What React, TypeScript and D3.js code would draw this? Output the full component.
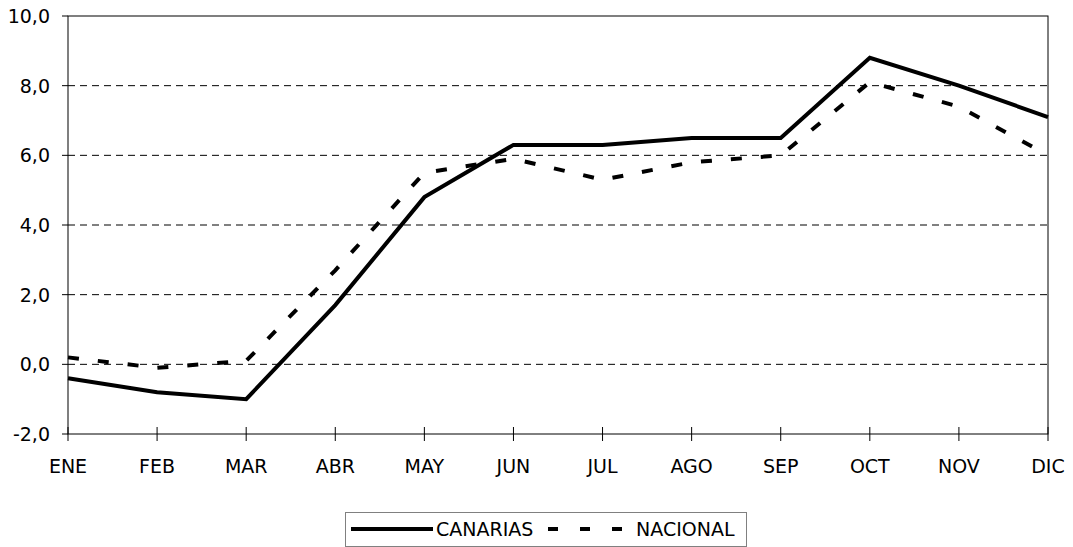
import React from "react";
import * as d3 from "d3";

const months = ["ENE", "FEB", "MAR", "ABR", "MAY", "JUN", "JUL", "AGO", "SEP", "OCT", "NOV", "DIC"];
const canarias = [-0.4, -0.8, -1.0, 1.7, 4.8, 6.3, 6.3, 6.5, 6.5, 8.8, 8.0, 7.1];
const nacional = [0.2, -0.1, 0.1, 2.7, 5.5, 5.9, 5.3, 5.8, 6.0, 8.1, 7.4, 6.0];
const yTicks = [-2, 0, 2, 4, 6, 8, 10];
const seriesNames = ["CANARIAS", "NACIONAL"];

const W = 1073, H = 547;
const L = 68, R = 1048, T = 16, B = 434;
const font = "Tahoma, 'DejaVu Sans', Verdana, sans-serif";
const FS = 19;

export default function App() {
  const x = d3.scalePoint<string>().domain(months).range([L, R]);
  const y = d3.scaleLinear().domain([-2, 10]).range([B, T]);
  const line = d3.line<number>().x((_, i) => x(months[i])!).y((d) => y(d));
  const fmt = (v: number) => v.toFixed(1).replace(".", ",");

  return (
    <svg width={W} height={H} style={{ position: "absolute", left: 0, top: 0, fontFamily: font }}>
      <rect width={W} height={H} fill="#fff" />
      {yTicks.filter((t) => t > -2 && t < 10).map((t) => (
        <line key={t} x1={L} x2={R} y1={y(t)} y2={y(t)} stroke="#000" strokeWidth={1} strokeDasharray="7,5" />
      ))}
      <rect x={L} y={T} width={R - L} height={B - T} fill="none" stroke="#000" strokeWidth={1} />
      {yTicks.map((t) => (
        <g key={t}>
          <line x1={L - 6} x2={L} y1={y(t)} y2={y(t)} stroke="#000" />
          <text x={L - 18} y={y(t)} dy="0.36em" textAnchor="end" fontSize={FS} fill="#000">{fmt(t)}</text>
        </g>
      ))}
      {months.map((m) => (
        <g key={m}>
          <line x1={x(m)!} x2={x(m)!} y1={B - 7} y2={B + 7} stroke="#000" />
          <text x={x(m)!} y={B + 39} textAnchor="middle" fontSize={FS} fill="#000">{m}</text>
        </g>
      ))}
      <path d={line(nacional)!} fill="none" stroke="#000" strokeWidth={4} strokeDasharray="11,19" />
      <path d={line(canarias)!} fill="none" stroke="#000" strokeWidth={4} strokeLinejoin="miter" />
      <g>
        <rect x={345.5} y={512.5} width={401} height={34} fill="#fff" stroke="#808080" strokeWidth={1} />
        <line x1={351} x2={433} y1={529} y2={529} stroke="#000" strokeWidth={4} />
        <text x={436} y={529} dy="0.36em" fontSize={FS} fill="#000">{seriesNames[0]}</text>
        <line x1={548} x2={630} y1={529} y2={529} stroke="#000" strokeWidth={4} strokeDasharray="10,22" />
        <text x={636} y={529} dy="0.36em" fontSize={FS} fill="#000">{seriesNames[1]}</text>
      </g>
    </svg>
  );
}
